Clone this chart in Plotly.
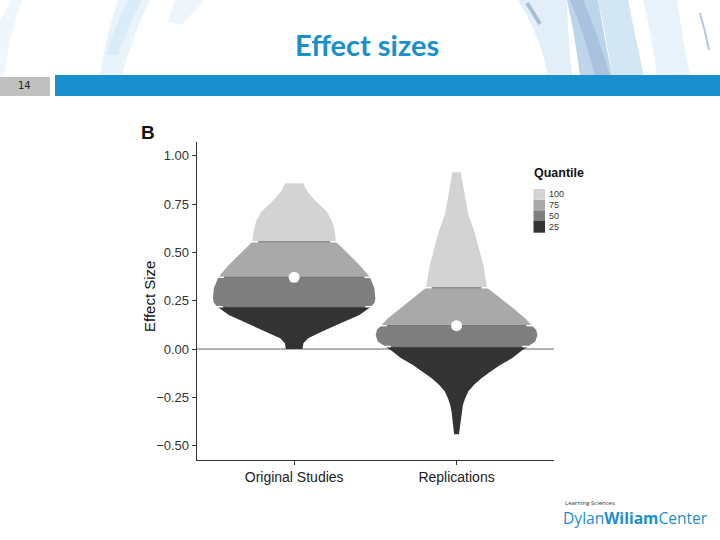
import re
import plotly.graph_objects as go

# ---------------- data ----------------
categories = ["Original Studies", "Replications"]

# violin outline: effect-size value and half-width (in category units)
orig_y  = [0.000, 0.030, 0.056, 0.090, 0.133, 0.176, 0.219, 0.240, 0.262, 0.314, 0.371,
           0.426, 0.469, 0.512, 0.555, 0.607, 0.659, 0.710, 0.745, 0.780, 0.823, 0.857]
orig_hw = [0.051, 0.057, 0.086, 0.169, 0.286, 0.402, 0.473, 0.495, 0.500, 0.494, 0.467,
           0.412, 0.361, 0.306, 0.257, 0.251, 0.235, 0.202, 0.159, 0.116, 0.075, 0.055]

rep_y  = [-0.441, -0.374, -0.323, -0.289, -0.254, -0.219, -0.185, -0.151, -0.116, -0.081,
          -0.047, -0.007, 0.013, 0.039, 0.073, 0.100, 0.121, 0.159, 0.210, 0.262, 0.317,
          0.366, 0.435, 0.521, 0.607, 0.693, 0.780, 0.849, 0.914]
rep_hw = [0.015, 0.024, 0.031, 0.039, 0.053, 0.073, 0.108, 0.153, 0.210, 0.271,
          0.343, 0.402, 0.439, 0.485, 0.498, 0.490, 0.465, 0.422, 0.351, 0.270, 0.188,
          0.179, 0.165, 0.137, 0.110, 0.073, 0.053, 0.037, 0.026]

orig_quantiles = [0.219, 0.371, 0.555]   # 25th, 50th, 75th
rep_quantiles  = [0.013, 0.121, 0.317]

quantile_labels = ["25", "50", "75", "100"]
band_colors = ["#333333", "#7f7f7f", "#a9a9a9", "#d3d3d3"]

ytick_vals = [-0.5, -0.25, 0.0, 0.25, 0.5, 0.75, 1.0]
ytick_text = ["\u22120.50", "\u22120.25", "0.00", "0.25", "0.50", "0.75", "1.00"]

# ---------------- figure ----------------
W, H = 720, 540
fig = go.Figure()

FONT = "Liberation Sans, Arial, sans-serif"

# zero reference line
fig.add_trace(go.Scatter(x=[-0.6, 1.6], y=[0, 0], mode="lines",
                         line=dict(color="#666666", width=1), hoverinfo="skip",
                         showlegend=False))

groups = [(orig_y, orig_hw, orig_quantiles), (rep_y, rep_hw, rep_quantiles)]
for gi, (ys, hws, qs) in enumerate(groups):
    bounds = [min(ys)] + qs + [max(ys)]
    for k in range(4):
        lo, hi = bounds[k], bounds[k + 1]
        pts = [(y, w) for y, w in zip(ys, hws) if lo - 1e-9 <= y <= hi + 1e-9]
        xs = [gi + w for y, w in pts] + [gi - w for y, w in reversed(pts)]
        yy = [y for y, w in pts] + [y for y, w in reversed(pts)]
        fig.add_trace(go.Scatter(x=xs, y=yy, mode="lines", fill="toself",
                                 fillcolor=band_colors[k], line=dict(width=0),
                                 hoverinfo="skip", showlegend=False))
    # quantile lines
    for q in qs:
        w = hws[ys.index(q)]
        fig.add_trace(go.Scatter(x=[gi - w, gi + w], y=[q, q], mode="lines",
                                 line=dict(color="#777777", width=1.2),
                                 hoverinfo="skip", showlegend=False))
        for s in (-1, 1):
            fig.add_trace(go.Scatter(x=[gi + s * (w + 0.012), gi + s * (w - 0.035)], y=[q, q],
                                     mode="lines", line=dict(color="white", width=1.5),
                                     hoverinfo="skip", showlegend=False))
    # median point
    fig.add_trace(go.Scatter(x=[gi], y=[qs[1]], mode="markers",
                             marker=dict(color="white", size=11, line=dict(width=0)),
                             hoverinfo="skip", showlegend=False))

# ---------------- page decoration (pixel -> paper coordinates) ----------------
def px(x):
    return x / W
def py(y):
    return 1 - y / H

def conv_path(path):
    def rep(m):
        return f"{px(float(m.group(1))):.5f},{py(float(m.group(2))):.5f}"
    return re.sub(r"(-?[\d.]+),(-?[\d.]+)", rep, path)

shapes = []
def arc(path, color, width, opacity=1.0):
    shapes.append(dict(type="path", path=conv_path(path), xref="paper", yref="paper",
                       line=dict(color=color, width=width), opacity=opacity, layer="below"))
def band(path, color, opacity=1.0):
    shapes.append(dict(type="path", path=conv_path(path), xref="paper", yref="paper",
                       fillcolor=color, line=dict(width=0), opacity=opacity, layer="below"))
def rect(x0, x1, y0, y1, color, layer="below"):
    shapes.append(dict(type="rect", x0=px(x0), x1=px(x1), y0=py(y1), y1=py(y0),
                       xref="paper", yref="paper", fillcolor=color,
                       line=dict(width=0), layer=layer))

# top-left faint arcs
band("M 118,0 L 150,0 Q 132,35 122,76 L 100,76 Q 106,35 118,0 Z", "#e8f3fa")
band("M 128,0 L 142,0 Q 126,30 118,55 L 106,55 Q 114,28 128,0 Z", "#d9ecf7")
band("M 175,0 L 205,0 Q 190,15 182,25 L 168,22 Z", "#eef6fb")
band("M 0,20 L 12,0 L 22,0 Q 8,40 4,76 L 0,76 Z", "#f0f7fc")
# top-right arcs
band("M 518,0 L 567,0 Q 568,40 572,76 L 548,76 Q 540,35 518,0 Z", "#e3eff8")
band("M 567,0 L 598,0 Q 605,40 612,76 L 580,76 Q 575,35 567,0 Z", "#bcd5eb")
band("M 570,0 L 583,0 Q 600,40 610,76 L 595,76 Q 585,35 570,0 Z", "#a9c3df")
band("M 598,0 L 628,0 Q 636,40 644,76 L 612,76 Q 606,35 598,0 Z", "#d2e6f4")
band("M 643,0 L 677,0 Q 683,40 690,76 L 657,76 Q 652,35 643,0 Z", "#e7f2fa")
arc("M 527,3 Q 533,12 540,24", "#a9bfd6", 4)
arc("M 700,13 Q 705,30 709,50", "#b5c7da", 2)
arc("M 580,50 Q 582,62 584,74", "#c8d6e6", 2)

# header bars
rect(55, 720, 75, 96, "#1a8fcd")
rect(0, 50, 77, 96, "#c0c0c0")

# legend keys
leg_y = [221, 210.3, 199.7, 189]  # tops for 25, 50, 75, 100
leg_h = [11.7, 10.7, 10.6, 10.7]
for k in range(4):
    rect(533.5, 545, leg_y[k], leg_y[k] + leg_h[k], band_colors[k], layer="above")

annotations = []
def txt(x, y, text, size, color="#000000", family=FONT, xanchor="center", angle=0):
    annotations.append(dict(x=px(x), y=py(y), xref="paper", yref="paper", text=text,
                            showarrow=False, font=dict(size=size, color=color, family=family),
                            xanchor=xanchor, yanchor="middle", textangle=angle))

txt(367, 44, "<b>Effect sizes</b>", 29, color="#1a8fcd", family="Lato, Open Sans, sans-serif")
txt(24, 86, "14", 11, color="#222222", family="DejaVu Sans Condensed, DejaVu Sans")
txt(148, 133, "<b>B</b>", 19, color="#111111")
txt(149, 297, "Effect Size", 15, color="#111111", angle=-90)
txt(532, 173, "<b>Quantile</b>", 12.5, color="#111111", xanchor="left")
for k in range(4):
    txt(546.5, leg_y[k] + leg_h[k] / 2, quantile_labels[k], 9, color="#333333", xanchor="left")

# logo
txt(563, 503, "Learning Sciences", 6, color="#333333", xanchor="left",
    family="Open Sans, sans-serif")
txt(561, 518, "Dylan<b>Wiliam</b>Center", 15.6, color="#1b8fd0", xanchor="left",
    family="Open Sans, sans-serif")

fig.update_layout(
    width=W, height=H,
    margin=dict(l=0, r=0, t=0, b=0),
    paper_bgcolor="white", plot_bgcolor="rgba(0,0,0,0)",
    showlegend=False,
    shapes=shapes, annotations=annotations,
    xaxis=dict(domain=[196.7 / W, 554 / W], range=[-0.6, 1.6],
               tickvals=[0, 1], ticktext=categories,
               showline=True, linecolor="#333333", linewidth=1,
               ticks="outside", ticklen=4, tickcolor="#333333",
               showgrid=False, zeroline=False,
               tickfont=dict(family=FONT, size=14, color="#222222")),
    yaxis=dict(domain=[1 - 460 / H, 1 - 142 / H], range=[-0.574, 1.071],
               tickvals=ytick_vals, ticktext=ytick_text,
               showline=True, linecolor="#333333", linewidth=1,
               ticks="outside", ticklen=4, tickcolor="#333333",
               showgrid=False, zeroline=False,
               tickfont=dict(family=FONT, size=13, color="#333333")),
)

fig.write_html("out.html", config={"displayModeBar": False},
               post_script="document.body.style.margin='0';document.body.style.overflow='hidden';")
